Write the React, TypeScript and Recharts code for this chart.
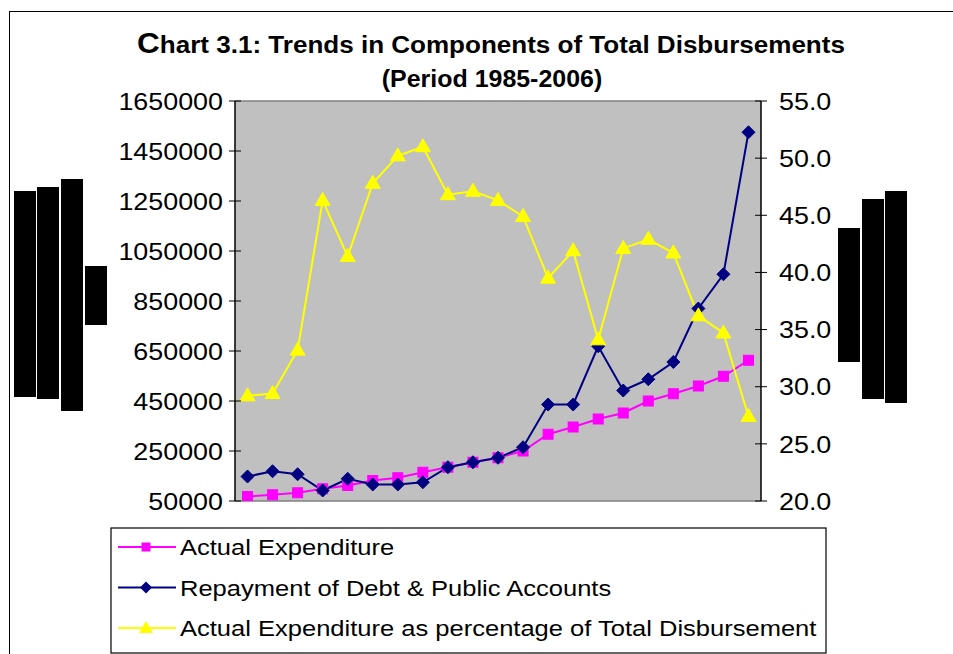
import React from 'react';
import { ComposedChart, Line, XAxis, YAxis, CartesianGrid, Legend, ReferenceLine } from 'recharts';

const years = ['1985-86', '1986-87', '1987-88', '1988-89', '1989-90', '1990-91', '1991-92', '1992-93', '1993-94', '1994-95', '1995-96', '1996-97', '1997-98', '1998-99', '1999-00', '2000-01', '2001-02', '2002-03', '2003-04', '2004-05', '2005-06'];
const actualExpenditure = [68000, 75000, 83000, 99000, 112000, 132000, 143000, 165000, 185000, 205000, 223000, 250000, 317000, 346000, 378000, 402000, 450000, 479000, 510000, 549000, 613000];
const repayment = [148000, 169000, 157000, 92000, 139000, 116000, 116000, 125000, 185000, 205000, 223000, 265000, 436000, 436000, 669000, 492000, 537000, 606000, 820000, 957000, 1525000];
const percentage = [29.2, 29.4, 33.2, 46.3, 41.4, 47.8, 50.2, 51.0, 46.8, 47.1, 46.3, 44.9, 39.5, 41.9, 34.1, 42.1, 42.9, 41.7, 36.2, 34.7, 27.4];
const leftTicks = [50000, 250000, 450000, 650000, 850000, 1050000, 1250000, 1450000, 1650000];
const rightTicks = [20, 25, 30, 35, 40, 45, 50, 55];
const seriesNames = ['Actual Expenditure', 'Repayment of Debt & Public Accounts', 'Actual Expenditure as percentage of Total Disbursement'];

const data = years.map((y, i) => ({
  year: y,
  actual: actualExpenditure[i],
  repay: repayment[i],
  pct: percentage[i],
}));

const PINK = '#FF00FF';
const NAVY = '#000080';
const YELLOW = '#FFFF00';
const FONT = '"Liberation Sans", Arial, sans-serif';
const SX = 1.12;

const Square = (props: any) => {
  const { cx, cy, index } = props;
  if (cx == null || cy == null) return null;
  return <rect key={`s${index}`} x={cx - 5} y={cy - 5} width={10} height={10} fill={PINK} stroke={PINK} />;
};
const Diamond = (props: any) => {
  const { cx, cy, index } = props;
  if (cx == null || cy == null) return null;
  const r = 6.5;
  return <polygon key={`d${index}`} points={`${cx},${cy - r} ${cx + r},${cy} ${cx},${cy + r} ${cx - r},${cy}`} fill={NAVY} stroke={NAVY} />;
};
const Triangle = (props: any) => {
  const { cx, cy, index } = props;
  if (cx == null || cy == null) return null;
  return <polygon key={`t${index}`} points={`${cx},${cy - 8} ${cx + 7.5},${cy + 5} ${cx - 7.5},${cy + 5}`} fill={YELLOW} stroke={YELLOW} />;
};

const LeftTick = (props: any) => {
  const { x, y, payload } = props;
  const ax = x + 12;
  return (
    <g>
      <line x1={ax - 6} x2={ax + 6} y1={y} y2={y} stroke="#000" strokeWidth={1} />
      <text transform={`translate(${x},${y}) scale(${SX},1)`} dy="0.36em" textAnchor="end" fontSize={24} fontFamily={FONT} fill="#000">
        {payload.value}
      </text>
    </g>
  );
};
const RightTick = (props: any) => {
  const { x, y, payload } = props;
  const ax = x - 18;
  return (
    <g>
      <line x1={ax - 6} x2={ax + 6} y1={y} y2={y} stroke="#000" strokeWidth={1} />
      <text transform={`translate(${x},${y}) scale(${SX},1)`} dy="0.36em" textAnchor="start" fontSize={24} fontFamily={FONT} fill="#000">
        {Number(payload.value).toFixed(1)}
      </text>
    </g>
  );
};

const LegendBox = () => {
  const rows = [
    { name: seriesNames[0], color: PINK, kind: 's' },
    { name: seriesNames[1], color: NAVY, kind: 'd' },
    { name: seriesNames[2], color: YELLOW, kind: 't' },
  ];
  return (
    <svg width={718} height={128} style={{ display: 'block' }}>
      <rect x={1} y={1} width={715} height={125} fill="#fff" stroke="#000" strokeWidth={1.2} />
      {rows.map((r, i) => {
        const cy = 20 + i * 40.5;
        const cx = 36;
        return (
          <g key={r.name}>
            <line x1={8} x2={66} y1={cy} y2={cy} stroke={r.color} strokeWidth={2} />
            {r.kind === 's' && <rect x={cx - 4.5} y={cy - 4.5} width={9} height={9} fill={r.color} />}
            {r.kind === 'd' && <polygon points={`${cx},${cy - 6} ${cx + 6},${cy} ${cx},${cy + 6} ${cx - 6},${cy}`} fill={r.color} />}
            {r.kind === 't' && <polygon points={`${cx},${cy - 7} ${cx + 7},${cy + 5} ${cx - 7},${cy + 5}`} fill={r.color} />}
            <text transform={`translate(70,${cy}) scale(${SX},1)`} dy="0.36em" fontSize={22.8} fontFamily={FONT} fill="#000">{r.name}</text>
          </g>
        );
      })}
    </svg>
  );
};

export default function App() {
  return (
    <div style={{ position: 'absolute', left: 0, top: 0, width: 953, height: 654, overflow: 'hidden', background: '#fff' }}>
      <div style={{ position: 'absolute', left: 9, top: 11, width: 1000, height: 700, border: '1.5px solid #000', boxSizing: 'border-box' }} />
      <svg width={953} height={100} style={{ position: 'absolute', left: 0, top: 0 }}>
        <text transform={`translate(491,53) scale(1.085,1)`} textAnchor="middle" fontFamily={FONT} fontWeight="bold" fill="#000" fontSize={24}>
          <tspan fontSize={29}>C</tspan>hart 3.1: Trends in Components of Total Disbursements
        </text>
        <text transform={`translate(492,87) scale(1.04,1)`} textAnchor="middle" fontFamily={FONT} fontWeight="bold" fill="#000" fontSize={24}>
          (Period 1985-2006)
        </text>
      </svg>
      <div style={{ position: 'absolute', left: 0, top: 0 }}>
        <ComposedChart
          width={953}
          height={654}
          data={data}
          margin={{ top: 101, right: 112, bottom: 25, left: 115 }}
        >
          <CartesianGrid horizontal={false} vertical={false} fill="#C0C0C0" />
          <XAxis dataKey="year" hide scale="band" />
          <YAxis
            yAxisId="left"
            orientation="left"
            width={120}
            domain={[50000, 1650000]}
            ticks={leftTicks}
            interval={0}
            tickSize={6}
            tickMargin={6}
            tickLine={false}
            axisLine={{ stroke: '#000', strokeWidth: 1.5 }}
            tick={<LeftTick />}
            allowDataOverflow
          />
          <YAxis
            yAxisId="right"
            orientation="right"
            width={80}
            domain={[20, 55]}
            ticks={rightTicks}
            interval={0}
            tickSize={6}
            tickMargin={12}
            tickLine={false}
            axisLine={{ stroke: '#000', strokeWidth: 1.5 }}
            tick={<RightTick />}
            allowDataOverflow
          />
          <ReferenceLine yAxisId="left" y={1650000} stroke="#808080" strokeWidth={1.5} />
          <ReferenceLine yAxisId="left" y={50000} stroke="#808080" strokeWidth={1.5} />
          <Line yAxisId="left" dataKey="actual" name={seriesNames[0]} stroke={PINK} strokeWidth={2} dot={<Square />} isAnimationActive={false} />
          <Line yAxisId="left" dataKey="repay" name={seriesNames[1]} stroke={NAVY} strokeWidth={2} dot={<Diamond />} isAnimationActive={false} />
          <Line yAxisId="right" dataKey="pct" name={seriesNames[2]} stroke={YELLOW} strokeWidth={2} dot={<Triangle />} isAnimationActive={false} />
          <Legend
            content={<LegendBox />}
            wrapperStyle={{ position: 'absolute', left: 110, top: 527, width: 718, height: 128 }}
          />
        </ComposedChart>
      </div>
      <div style={{ position: 'absolute', left: 14, top: 191, width: 22, height: 206, background: '#000' }} />
      <div style={{ position: 'absolute', left: 37, top: 187, width: 22, height: 212, background: '#000' }} />
      <div style={{ position: 'absolute', left: 61, top: 179, width: 22, height: 232, background: '#000' }} />
      <div style={{ position: 'absolute', left: 85, top: 266, width: 22, height: 59, background: '#000' }} />
      <div style={{ position: 'absolute', left: 838, top: 228, width: 22, height: 134, background: '#000' }} />
      <div style={{ position: 'absolute', left: 862, top: 199, width: 22, height: 200, background: '#000' }} />
      <div style={{ position: 'absolute', left: 885, top: 191, width: 22, height: 212, background: '#000' }} />
    </div>
  );
}
